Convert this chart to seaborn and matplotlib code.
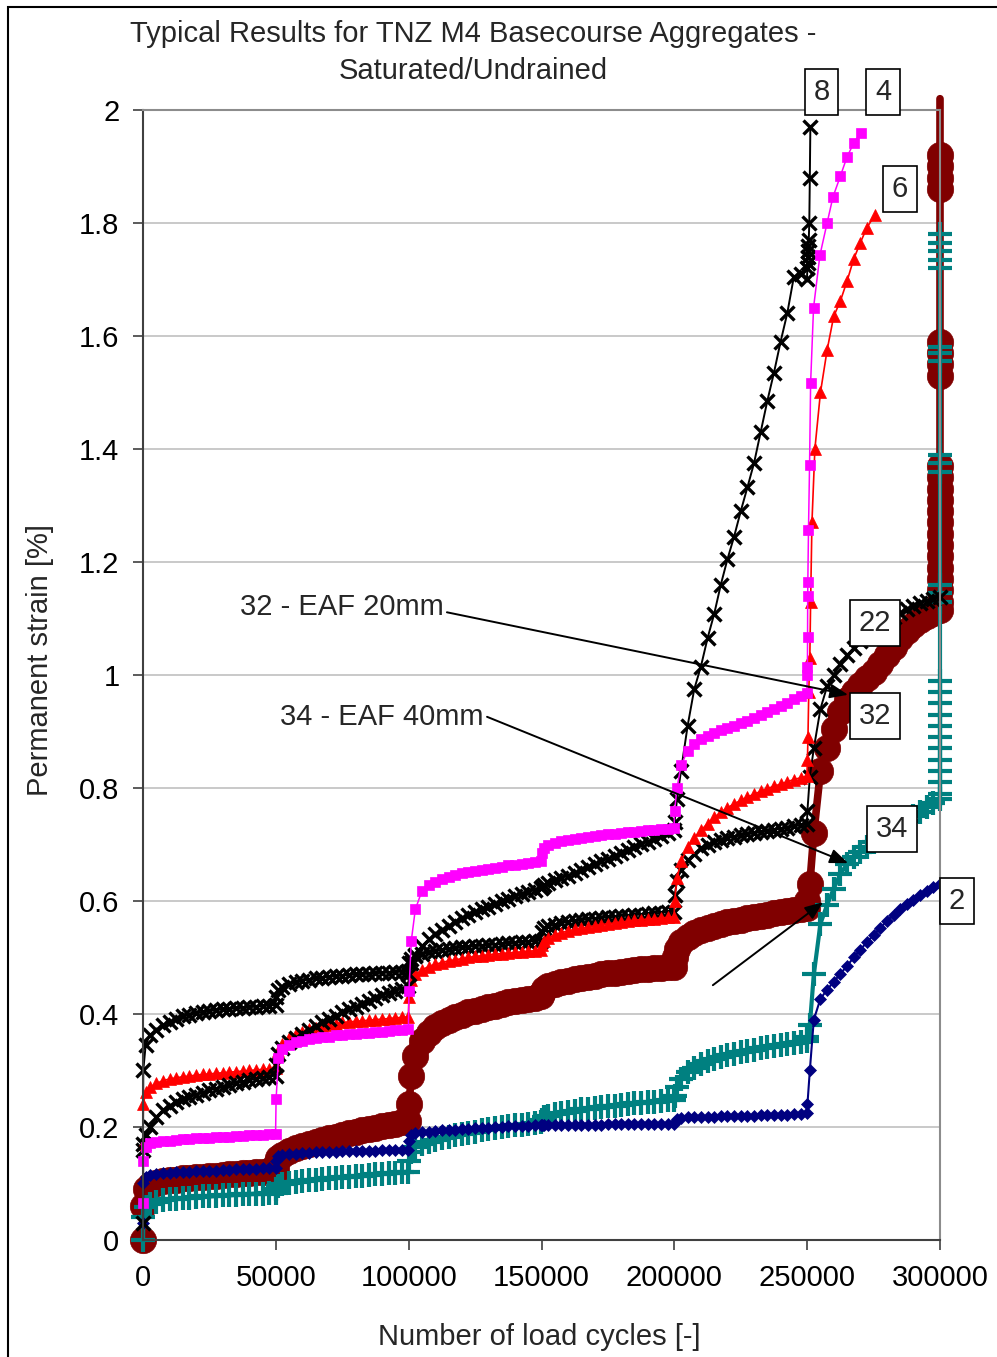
import matplotlib
matplotlib.use("Agg")
import matplotlib.pyplot as plt
from matplotlib.patches import Rectangle
import seaborn as sns

# ---------------------------------------------------------------------------
# Load-cycle schedule: readings inside each 50 000-cycle loading stage
# ---------------------------------------------------------------------------
STAGE_STARTS = [0, 50000, 100000, 150000, 200000, 250000]
STAGE_OFFSETS = [100, 1000, 2500, 5000, 7500, 10000, 12500, 15000, 17500, 20000,
                 22500, 25000, 27500, 30000, 32500, 35000, 37500, 40000, 42500,
                 45000, 47500, 49900]
END_CYCLES = 300000

# ---------------------------------------------------------------------------
# Permanent strain [%] per test, one row per loading stage
# ---------------------------------------------------------------------------
# Test 2
T2_FIRST = 0.03
T2_STAGES = [
    [0.100, 0.111, 0.115, 0.117, 0.118, 0.119, 0.120, 0.121, 0.121, 0.122, 0.122,
     0.123, 0.123, 0.124, 0.124, 0.125, 0.125, 0.126, 0.126, 0.127, 0.127, 0.128],
    [0.140, 0.148, 0.151, 0.152, 0.153, 0.154, 0.154, 0.155, 0.155, 0.156, 0.156,
     0.157, 0.157, 0.157, 0.158, 0.158, 0.158, 0.159, 0.159, 0.159, 0.160, 0.160],
    [0.175, 0.185, 0.189, 0.191, 0.192, 0.193, 0.194, 0.195, 0.195, 0.196, 0.197,
     0.198, 0.198, 0.199, 0.200, 0.200, 0.201, 0.201, 0.202, 0.202, 0.203, 0.203],
    [0.203, 0.204, 0.204, 0.204, 0.204, 0.204, 0.204, 0.204, 0.204, 0.204, 0.204,
     0.205, 0.205, 0.205, 0.205, 0.205, 0.205, 0.205, 0.205, 0.205, 0.205, 0.205],
    [0.208, 0.214, 0.216, 0.217, 0.217, 0.218, 0.218, 0.218, 0.219, 0.219, 0.219,
     0.220, 0.220, 0.220, 0.221, 0.221, 0.221, 0.222, 0.222, 0.223, 0.223, 0.224],
    [0.240, 0.300, 0.390, 0.427, 0.443, 0.457, 0.471, 0.485, 0.500, 0.514, 0.527,
     0.540, 0.552, 0.565, 0.575, 0.585, 0.594, 0.602, 0.610, 0.617, 0.624, 0.630],
]

# Test 34 - EAF 40mm
T34_FIRST = 0.0
T34_STAGES = [
    [0.040, 0.058, 0.064, 0.068, 0.070, 0.072, 0.073, 0.074, 0.075, 0.076, 0.077,
     0.077, 0.078, 0.079, 0.079, 0.080, 0.081, 0.081, 0.082, 0.082, 0.083, 0.083],
    [0.090, 0.096, 0.099, 0.101, 0.103, 0.104, 0.106, 0.107, 0.108, 0.109, 0.110,
     0.111, 0.112, 0.113, 0.114, 0.115, 0.116, 0.117, 0.118, 0.119, 0.120, 0.121],
    [0.140, 0.155, 0.164, 0.170, 0.174, 0.177, 0.180, 0.183, 0.185, 0.188, 0.190,
     0.192, 0.194, 0.196, 0.198, 0.200, 0.201, 0.203, 0.204, 0.206, 0.207, 0.208],
    [0.212, 0.217, 0.220, 0.223, 0.225, 0.227, 0.229, 0.231, 0.232, 0.234, 0.235,
     0.237, 0.238, 0.239, 0.241, 0.242, 0.243, 0.244, 0.245, 0.246, 0.247, 0.248],
    [0.255, 0.270, 0.285, 0.297, 0.305, 0.311, 0.316, 0.320, 0.324, 0.327, 0.330,
     0.333, 0.335, 0.337, 0.339, 0.341, 0.343, 0.345, 0.347, 0.349, 0.351, 0.353],
    [0.360, 0.380, 0.470, 0.560, 0.593, 0.622, 0.648, 0.665, 0.678, 0.687, 0.696,
     0.704, 0.711, 0.718, 0.726, 0.734, 0.742, 0.750, 0.758, 0.766, 0.773, 0.780],
]
T34_END_STRAIN = [0.79, 0.81, 0.83, 0.85, 0.87, 0.89, 0.91, 0.93, 0.95, 0.97, 0.99,
                  1.13, 1.145, 1.16, 1.36, 1.375, 1.39, 1.555, 1.57, 1.58,
                  1.72, 1.735, 1.75, 1.765, 1.78]

# Test 32 - EAF 20mm
T32_FIRST = 0.0
T32_STAGES = [
    [0.060, 0.090, 0.097, 0.101, 0.104, 0.106, 0.107, 0.109, 0.110, 0.111, 0.112,
     0.113, 0.114, 0.115, 0.116, 0.117, 0.118, 0.119, 0.120, 0.121, 0.122, 0.123],
    [0.135, 0.145, 0.151, 0.157, 0.162, 0.166, 0.170, 0.174, 0.177, 0.180, 0.183,
     0.186, 0.189, 0.191, 0.194, 0.196, 0.199, 0.201, 0.204, 0.206, 0.208, 0.210],
    [0.240, 0.290, 0.325, 0.352, 0.367, 0.377, 0.384, 0.390, 0.395, 0.399, 0.403,
     0.406, 0.409, 0.412, 0.415, 0.418, 0.421, 0.423, 0.425, 0.427, 0.429, 0.431],
    [0.438, 0.445, 0.449, 0.453, 0.456, 0.459, 0.462, 0.464, 0.466, 0.468, 0.470,
     0.472, 0.473, 0.475, 0.476, 0.478, 0.479, 0.480, 0.481, 0.482, 0.483, 0.484],
    [0.500, 0.515, 0.527, 0.537, 0.543, 0.548, 0.552, 0.556, 0.559, 0.562, 0.565,
     0.567, 0.570, 0.572, 0.574, 0.576, 0.578, 0.580, 0.582, 0.584, 0.586, 0.588],
    [0.600, 0.630, 0.720, 0.830, 0.870, 0.905, 0.935, 0.955, 0.970, 0.982, 0.995,
     1.005, 1.020, 1.035, 1.050, 1.065, 1.078, 1.088, 1.097, 1.105, 1.110, 1.115],
]
T32_END_STRAIN = [1.13, 1.15, 1.17, 1.19, 1.21, 1.23, 1.25, 1.27, 1.29, 1.31, 1.33,
                  1.35, 1.37, 1.53, 1.55, 1.57, 1.59, 1.86, 1.88, 1.90, 1.92, 2.02]

# Test 22
T22_FIRST = 0.16
T22_STAGES = [
    [0.300, 0.345, 0.362, 0.372, 0.380, 0.386, 0.391, 0.396, 0.399, 0.401, 0.403,
     0.405, 0.407, 0.408, 0.409, 0.410, 0.411, 0.412, 0.413, 0.414, 0.415, 0.416],
    [0.430, 0.442, 0.448, 0.453, 0.456, 0.459, 0.461, 0.463, 0.464, 0.466, 0.467,
     0.468, 0.469, 0.470, 0.471, 0.471, 0.472, 0.473, 0.473, 0.474, 0.475, 0.476],
    [0.490, 0.498, 0.502, 0.506, 0.509, 0.511, 0.513, 0.515, 0.516, 0.518, 0.519,
     0.520, 0.521, 0.522, 0.523, 0.524, 0.525, 0.526, 0.527, 0.528, 0.529, 0.530],
    [0.545, 0.552, 0.555, 0.558, 0.561, 0.563, 0.565, 0.566, 0.568, 0.569, 0.570,
     0.571, 0.572, 0.573, 0.574, 0.575, 0.576, 0.577, 0.578, 0.579, 0.580, 0.581],
    [0.610, 0.635, 0.655, 0.672, 0.684, 0.693, 0.699, 0.704, 0.708, 0.711, 0.714,
     0.716, 0.718, 0.720, 0.722, 0.724, 0.726, 0.728, 0.730, 0.732, 0.734, 0.736],
    [0.760, 0.820, 0.870, 0.940, 0.980, 1.000, 1.020, 1.035, 1.048, 1.060, 1.070,
     1.080, 1.088, 1.096, 1.103, 1.110, 1.116, 1.122, 1.127, 1.131, 1.135, 1.138],
]

# Test 6
T6_FIRST = 0.17
T6_STAGES = [
    [0.240, 0.262, 0.270, 0.277, 0.282, 0.285, 0.287, 0.289, 0.290, 0.292, 0.293,
     0.294, 0.295, 0.296, 0.297, 0.298, 0.299, 0.300, 0.301, 0.302, 0.303, 0.304],
    [0.310, 0.335, 0.347, 0.357, 0.364, 0.369, 0.373, 0.376, 0.379, 0.381, 0.383,
     0.385, 0.386, 0.387, 0.388, 0.389, 0.390, 0.391, 0.392, 0.393, 0.394, 0.395],
    [0.430, 0.460, 0.470, 0.478, 0.484, 0.488, 0.491, 0.494, 0.496, 0.498, 0.500,
     0.502, 0.503, 0.505, 0.506, 0.507, 0.508, 0.509, 0.510, 0.511, 0.512, 0.513],
    [0.522, 0.530, 0.535, 0.540, 0.544, 0.547, 0.550, 0.552, 0.554, 0.556, 0.558,
     0.560, 0.561, 0.563, 0.564, 0.566, 0.567, 0.568, 0.569, 0.570, 0.571, 0.572],
    [0.600, 0.640, 0.670, 0.695, 0.712, 0.725, 0.737, 0.748, 0.757, 0.765, 0.772,
     0.778, 0.784, 0.789, 0.794, 0.799, 0.803, 0.807, 0.811, 0.815, 0.818, 0.821],
]
T6_FAIL_CYCLES = [250100, 250300, 250600, 251000, 251300, 251800, 252900, 255000,
                  257500, 260000, 262500, 265000, 267500, 270000, 272500, 275500]
T6_FAIL_STRAIN = [0.850, 0.890, 0.970, 1.030, 1.130, 1.270, 1.400, 1.500,
                  1.575, 1.635, 1.662, 1.697, 1.736, 1.765, 1.792, 1.814]

# Test 8
T8_FIRST = 0.03
T8_STAGES = [
    [0.170, 0.185, 0.200, 0.218, 0.230, 0.238, 0.244, 0.249, 0.253, 0.257, 0.261,
     0.265, 0.268, 0.271, 0.274, 0.277, 0.280, 0.283, 0.285, 0.287, 0.289, 0.291],
    [0.310, 0.330, 0.340, 0.350, 0.358, 0.365, 0.372, 0.378, 0.385, 0.391, 0.397,
     0.403, 0.408, 0.413, 0.418, 0.423, 0.428, 0.433, 0.437, 0.441, 0.445, 0.449],
    [0.470, 0.490, 0.505, 0.520, 0.532, 0.541, 0.549, 0.556, 0.563, 0.570, 0.575,
     0.580, 0.585, 0.590, 0.595, 0.600, 0.604, 0.608, 0.612, 0.616, 0.620, 0.623],
    [0.625, 0.628, 0.632, 0.637, 0.641, 0.645, 0.650, 0.655, 0.660, 0.665, 0.670,
     0.675, 0.680, 0.685, 0.690, 0.695, 0.700, 0.705, 0.710, 0.715, 0.720, 0.725],
    [0.740, 0.780, 0.830, 0.910, 0.975, 1.015, 1.065, 1.108, 1.160, 1.205, 1.245,
     1.290, 1.332, 1.375, 1.430, 1.485, 1.535, 1.590, 1.640, 1.705, 1.710, 1.700],
]
T8_FAIL_CYCLES = [250100, 250200, 250300, 250400, 250500, 250600, 250800, 251000, 251200]
T8_FAIL_STRAIN = [1.720, 1.730, 1.740, 1.750, 1.760, 1.770, 1.800, 1.880, 1.970]

# Test 4
T4_FIRST = 0.065
T4_STAGES = [
    [0.140, 0.165, 0.171, 0.174, 0.175, 0.176, 0.177, 0.178, 0.179, 0.180, 0.180,
     0.181, 0.182, 0.182, 0.183, 0.184, 0.184, 0.185, 0.186, 0.186, 0.187, 0.188],
    [0.250, 0.322, 0.338, 0.346, 0.350, 0.353, 0.355, 0.357, 0.359, 0.360, 0.362,
     0.363, 0.364, 0.365, 0.366, 0.367, 0.368, 0.369, 0.370, 0.371, 0.372, 0.373],
    [0.440, 0.530, 0.585, 0.618, 0.628, 0.634, 0.639, 0.643, 0.646, 0.649, 0.651,
     0.653, 0.655, 0.657, 0.659, 0.661, 0.663, 0.664, 0.666, 0.667, 0.669, 0.670],
    [0.685, 0.694, 0.699, 0.703, 0.706, 0.708, 0.710, 0.712, 0.714, 0.715, 0.717,
     0.718, 0.719, 0.720, 0.722, 0.723, 0.724, 0.725, 0.726, 0.727, 0.728, 0.729],
    [0.760, 0.800, 0.840, 0.866, 0.878, 0.886, 0.892, 0.897, 0.902, 0.906, 0.910,
     0.915, 0.919, 0.924, 0.929, 0.934, 0.939, 0.945, 0.951, 0.957, 0.963, 0.968],
]
T4_FAIL_CYCLES = [250050, 250100, 250150, 250200, 250250, 250500, 250900, 251300,
                  252400, 254800, 257500, 259700, 262500, 265000, 267600, 270300]
T4_FAIL_STRAIN = [1.000, 1.014, 1.067, 1.140, 1.165, 1.257, 1.372, 1.517,
                  1.650, 1.743, 1.800, 1.846, 1.883, 1.917, 1.942, 1.960]

# Axis ticks
XTICKS = [0, 50000, 100000, 150000, 200000, 250000, 300000]
XTICK_LABELS = ["0", "50000", "100000", "150000", "200000", "250000", "300000"]
YTICKS = [0, 0.2, 0.4, 0.6, 0.8, 1.0, 1.2, 1.4, 1.6, 1.8, 2.0]
YTICK_LABELS = ["0", "0.2", "0.4", "0.6", "0.8", "1", "1.2", "1.4", "1.6", "1.8", "2"]


def assemble(first, stages, tail_cycles=(), tail_strain=()):
    """Join the start reading, the staged readings and any final readings."""
    cycles, strain = [0], [first]
    for start, values in zip(STAGE_STARTS, stages):
        cycles.extend(start + off for off in STAGE_OFFSETS)
        strain.extend(values)
    cycles.extend(tail_cycles)
    strain.extend(tail_strain)
    return cycles, strain


series = [
    # (cycles/strain, colour, marker, marker size, marker edge width, line width)
    (assemble(T32_FIRST, T32_STAGES, [END_CYCLES] * len(T32_END_STRAIN), T32_END_STRAIN),
     "#800000", "o", 19, 0.5, 5.5),
    (assemble(T34_FIRST, T34_STAGES, [END_CYCLES] * len(T34_END_STRAIN), T34_END_STRAIN),
     "#008080", "+", 17.5, 3.0, 3.0),
    (assemble(T2_FIRST, T2_STAGES), "#000080", "D", 6, 0.5, 1.5),
    (assemble(T22_FIRST, T22_STAGES), "#000000", "x", 10, 2.4, 1.4),
    (assemble(T6_FIRST, T6_STAGES, T6_FAIL_CYCLES, T6_FAIL_STRAIN), "#FF0000", "^", 8, 0.5, 1.2),
    (assemble(T8_FIRST, T8_STAGES, T8_FAIL_CYCLES, T8_FAIL_STRAIN), "#000000", "x", 10, 2.4, 1.4),
    (assemble(T4_FIRST, T4_STAGES, T4_FAIL_CYCLES, T4_FAIL_STRAIN), "#FF00FF", "s", 6.8, 0.5, 1.1),
]

sns.set_style("white")
plt.rcParams["font.family"] = ["Liberation Sans", "DejaVu Sans"]

FS = 21
fig = plt.figure(figsize=(9.97, 13.57), dpi=100)
ax = fig.add_axes([0.14343, 0.08622, 0.79940, 0.83272])

for (cycles, strain), colour, marker, ms, mew, lw in series:
    extra = {}
    if strain[-1] > 2.0:
        # final reading runs off the scale: draw it as line only
        extra["markevery"] = list(range(len(strain) - 1))
    sns.lineplot(x=cycles, y=strain, ax=ax, color=colour, marker=marker,
                 markersize=ms, markeredgewidth=mew, markeredgecolor=colour,
                 markerfacecolor=colour, linewidth=lw, estimator=None,
                 sort=False, legend=False, clip_on=False, **extra)

ax.set_xlim(0, END_CYCLES)
ax.set_ylim(0, 2)
ax.set_xticks(XTICKS)
ax.set_xticklabels(XTICK_LABELS)
ax.set_yticks(YTICKS)
ax.set_yticklabels(YTICK_LABELS)
ax.tick_params(axis="both", direction="out", length=7, width=1.2,
               color="#404040", labelsize=FS, pad=10, labelcolor="black")
ax.tick_params(axis="x", bottom=True)
ax.tick_params(axis="y", left=True)
ax.set_xlabel("")
ax.set_ylabel("")

ax.yaxis.grid(True, color="#c0c0c0", linewidth=1.2)
ax.xaxis.grid(False)
ax.set_axisbelow(True)
for side in ("left", "bottom"):
    ax.spines[side].set_color("#404040")
    ax.spines[side].set_linewidth(1.5)
for side in ("top", "right"):
    ax.spines[side].set_color("#8c8c8c")
    ax.spines[side].set_linewidth(1.5)

# Test number tags
box = dict(boxstyle="square,pad=0.3", fc="white", ec="black", lw=1.2)
tags = [("8", 255400, 2.032), ("4", 278540, 2.032), ("6", 284940, 1.860),
        ("22", 275530, 1.092), ("32", 275530, 0.927), ("34", 281930, 0.727),
        ("2", 306400, 0.600)]
for label, tx, ty in tags:
    ax.text(tx, ty, label, ha="center", va="center", fontsize=FS, bbox=box,
            zorder=20, clip_on=False)

# Material call-outs
ax.text(36500, 1.120, "32 - EAF 20mm", ha="left", va="center", fontsize=FS, zorder=20)
ax.text(51500, 0.926, "34 - EAF 40mm", ha="left", va="center", fontsize=FS, zorder=20)
arrow = dict(arrowstyle="-|>,head_length=0.5,head_width=0.2", color="black",
             lw=1.4, shrinkA=0, shrinkB=0, mutation_scale=22)
for start, end in [((114400, 1.111), (265400, 0.965)),
                   ((129500, 0.926), (265400, 0.667)),
                   ((214500, 0.451), (256000, 0.598))]:
    ax.annotate("", xy=end, xytext=start, arrowprops=arrow, zorder=19)

# Titles and axis captions
fig.text(473 / 997, 1 - 42 / 1357, "Typical Results for TNZ M4 Basecourse Aggregates -",
         ha="center", va="baseline", fontsize=FS)
fig.text(473 / 997, 1 - 79 / 1357, "Saturated/Undrained",
         ha="center", va="baseline", fontsize=FS)
fig.text(40 / 997, 1 - 660 / 1357, "Permanent strain [%]", rotation=90,
         ha="center", va="center", fontsize=FS)
fig.text(539 / 997, 1 - 1345 / 1357, "Number of load cycles [-]",
         ha="center", va="baseline", fontsize=FS)

# Chart frame
fig.patches.append(Rectangle((8 / 997, -0.1), 1.5, 1 - 7 / 1357 + 0.1, fill=False,
                             ec="black", lw=1.5, transform=fig.transFigure,
                             figure=fig))

fig.savefig("out.png", dpi=100)
